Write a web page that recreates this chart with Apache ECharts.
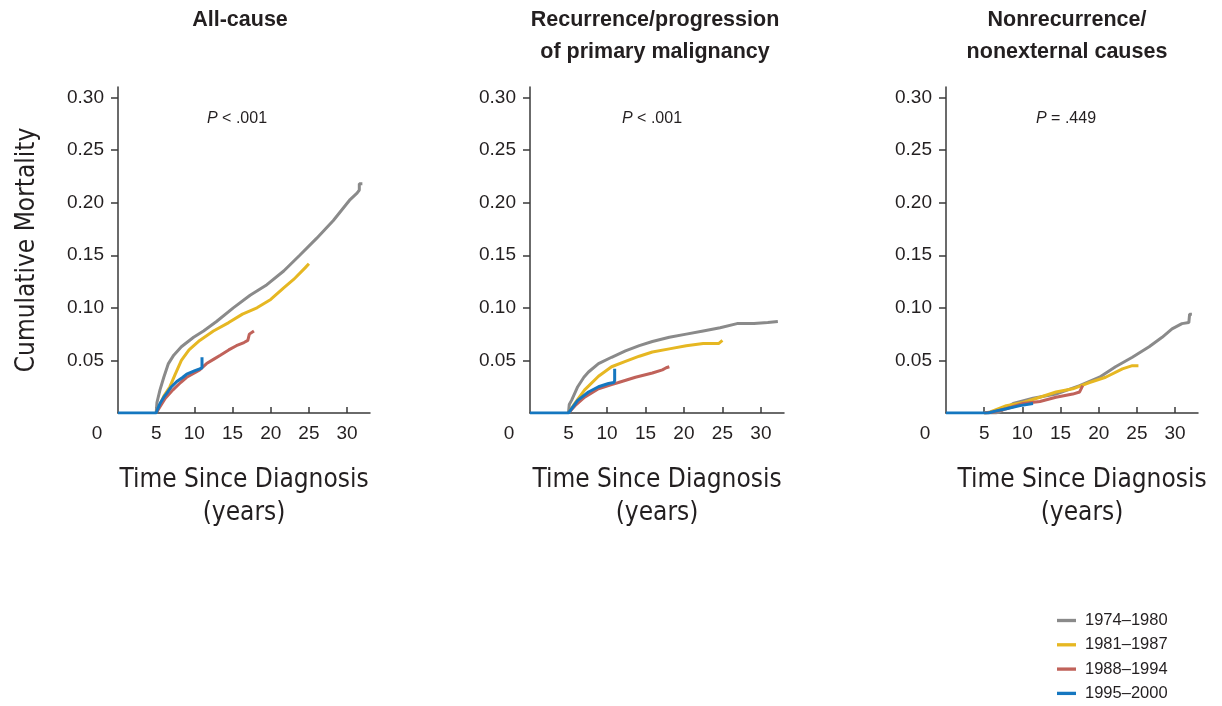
<!DOCTYPE html>
<html>
<head>
<meta charset="utf-8">
<script src="https://cdn.jsdelivr.net/npm/echarts@6/dist/echarts.min.js"></script>
<style>html,body{margin:0;padding:0;background:#fff;}#c{width:1222px;height:706px;}</style>
</head>
<body>
<div id="c"></div>
<script>
// ---- data (years since diagnosis, cumulative mortality) ----
var cohorts = ['1974\u20131980', '1981\u20131987', '1988\u20131994', '1995\u20132000'];
var panelTitles = ['All-cause', 'Recurrence/progression\nof primary malignancy', 'Nonrecurrence/\nnonexternal causes'];
var pValues = ['< .001', '< .001', '= .449'];
var yTicks = [0.05, 0.10, 0.15, 0.20, 0.25, 0.30];
var xLabels = [0, 5, 10, 15, 20, 25, 30];
var xTicks = [5, 10, 15, 20, 25, 30];

var allCause1974 = [[5,0],[5.1,0.01],[5.5,0.022],[6,0.034],[6.6,0.047],[7.3,0.055],[8.3,0.063],[9.9,0.072],[11.2,0.078],[12.9,0.087],[15.1,0.100],[17.3,0.112],[19.5,0.122],[21.7,0.135],[23.8,0.150],[26,0.166],[28.2,0.183],[30.4,0.203],[31.3,0.209],[31.6,0.212],[31.6,0.218],[32,0.218]];
var allCause1981 = [[5,0],[5.5,0.008],[6,0.016],[6.8,0.025],[7.5,0.037],[8.3,0.050],[9.3,0.060],[10.7,0.069],[12.5,0.078],[14.5,0.086],[16.3,0.094],[18.2,0.100],[20,0.108],[21.7,0.119],[23,0.127],[24.5,0.138],[25,0.142]];
var allCause1988 = [[5,0],[5.5,0.006],[6.2,0.014],[7.2,0.022],[8.2,0.029],[9,0.034],[10,0.038],[10.7,0.041],[11.6,0.047],[12.5,0.051],[13.4,0.055],[14.5,0.060],[15.5,0.064],[16.5,0.067],[17,0.069],[17.2,0.075],[17.8,0.078]];
var allCause1995 = [[0,0],[5,0],[5.2,0.004],[5.5,0.009],[6,0.015],[6.4,0.019],[7,0.025],[7.7,0.030],[8.5,0.034],[9,0.037],[10,0.040],[10.7,0.042],[11,0.043],[11,0.053]];

var recur1974 = [[5,0],[5.1,0.008],[5.4,0.012],[6.2,0.025],[7,0.034],[7.6,0.039],[8.9,0.047],[10.6,0.053],[12.4,0.059],[14.2,0.064],[15.9,0.068],[18.1,0.072],[20.3,0.075],[22.5,0.078],[24.7,0.081],[26.9,0.085],[29.1,0.085],[30.9,0.086],[32.2,0.087]];
var recur1981 = [[5,0],[5.8,0.009],[7.1,0.022],[8.9,0.035],[10.6,0.044],[12.4,0.049],[14.2,0.054],[15.9,0.058],[18.1,0.061],[20.3,0.064],[22.5,0.066],[24.5,0.066],[25,0.069]];
var recur1988 = [[5,0],[6,0.008],[7.1,0.015],[8.9,0.023],[10.6,0.027],[11.5,0.029],[13.7,0.034],[15.9,0.038],[17.2,0.041],[17.7,0.043],[18.1,0.044]];
var recur1995 = [[0,0],[5,0],[5.5,0.005],[6.2,0.012],[7.6,0.020],[8.9,0.025],[10.2,0.028],[10.9,0.029],[11,0.031],[11,0.042]];

var nonrec1974 = [[5,0],[6.5,0],[7,0.001],[8.8,0.009],[11.4,0.014],[14.4,0.018],[17.5,0.026],[20.1,0.034],[22.2,0.044],[24.4,0.053],[26.6,0.063],[28.3,0.072],[29.6,0.080],[30.9,0.085],[31.8,0.086],[31.9,0.094],[32.2,0.094]];
var nonrec1981 = [[5,0],[5.8,0.001],[7.9,0.007],[10.1,0.010],[12.3,0.015],[14.4,0.020],[16.6,0.023],[18.8,0.029],[20.9,0.034],[23.1,0.042],[24.4,0.045],[25.2,0.045]];
var nonrec1988 = [[5,0],[6.2,0.001],[7.9,0.004],[10.1,0.009],[12.3,0.011],[14.4,0.015],[16.6,0.018],[17.5,0.020],[17.9,0.026]];
var nonrec1995 = [[0,0],[5.5,0],[6.6,0.002],[7.9,0.004],[9.7,0.007],[11.4,0.009]];

var panelData = [
  [allCause1974, allCause1981, allCause1988, allCause1995],
  [recur1974, recur1981, recur1988, recur1995],
  [nonrec1974, nonrec1981, nonrec1988, nonrec1995]
];

// ---- styling / layout ----
var colors = ['#8a8a8a', '#e6b722', '#c0625a', '#1577c0'];
var ink = '#231f20';
var tickFont = "'Liberation Sans', Arial, sans-serif";
var narrowFont = "'Liberation Sans Narrow', 'DejaVu Sans Condensed', 'Liberation Sans', sans-serif";
var grids = [
  {left: 118, top: 87, width: 252, height: 326},
  {left: 530, top: 87, width: 254, height: 326},
  {left: 946, top: 87, width: 252, height: 326}
];
var titleCenters = [240, 655, 1067];
var pCenters = [237, 652, 1066];

var option = {
  backgroundColor: '#fff',
  animation: false,
  grid: grids,
  title: [],
  legend: {
    data: cohorts,
    orient: 'vertical',
    left: 1057, top: 612, padding: 0,
    icon: 'path://M0,0H20V3.5H0Z',
    itemWidth: 19, itemHeight: 14, itemGap: 7.3,
    textStyle: {fontFamily: tickFont, fontSize: 16.5, color: ink, padding: [0, 0, 0, 4]}
  },
  xAxis: [], yAxis: [], series: []
};

for (var p = 0; p < 3; p++) {
  option.title.push({
    text: panelTitles[p], left: titleCenters[p], top: 4, textAlign: 'center', padding: 0,
    textStyle: {fontFamily: tickFont, fontWeight: 'bold', fontSize: 21.5, color: ink, lineHeight: 32}
  });
  option.title.push({
    text: '{i|P} ' + pValues[p], left: pCenters[p], top: 111, textAlign: 'center', padding: 0,
    textStyle: {fontFamily: tickFont, fontSize: 16, fontWeight: 'normal', color: ink,
      rich: {i: {fontFamily: tickFont, fontSize: 16, fontStyle: 'italic', fontWeight: 'normal', color: ink}}}
  });
  option.xAxis.push({
    type: 'value', gridIndex: p, min: 0, max: 33, interval: 5,
    splitLine: {show: false},
    axisLine: {lineStyle: {color: '#3a3a3a', width: 1.5}},
    axisTick: {show: true, inside: true, length: 6, customValues: xTicks, lineStyle: {color: '#3a3a3a', width: 1.5}},
    axisLabel: {
      customValues: xLabels, margin: 11, color: ink, fontFamily: tickFont, fontSize: 19,
      formatter: function (v) { return v === 0 ? '{z|0}' : String(v); },
      rich: {z: {fontFamily: tickFont, fontSize: 19, color: ink, padding: [0, 42, 0, 0]}}
    },
    name: 'Time Since Diagnosis\n(years)', nameLocation: 'middle', nameGap: 51,
    nameTextStyle: {fontFamily: narrowFont, fontSize: 26, color: ink, lineHeight: 33,
      padding: p === 2 ? [0, 0, 0, 20] : 0}
  });
  option.yAxis.push({
    type: 'value', gridIndex: p, min: 0, max: 0.31, interval: 0.05,
    splitLine: {show: false},
    axisLine: {show: true, lineStyle: {color: '#3a3a3a', width: 1.5}},
    axisTick: {show: true, length: 7, customValues: yTicks, lineStyle: {color: '#3a3a3a', width: 1.5}},
    axisLabel: {
      customValues: yTicks, margin: 14, color: ink, fontFamily: tickFont, fontSize: 19,
      formatter: function (v) { return v.toFixed(2); }
    },
    name: p === 0 ? 'Cumulative Mortality' : '', nameLocation: 'middle', nameGap: 78,
    nameTextStyle: {fontFamily: narrowFont, fontSize: 26, color: ink}
  });
  for (var s = 0; s < 4; s++) {
    option.series.push({
      type: 'line', name: cohorts[s], xAxisIndex: p, yAxisIndex: p,
      data: panelData[p][s], symbol: 'none', z: 2 + s,
      lineStyle: {color: colors[s], width: 3}, itemStyle: {color: colors[s]}
    });
  }
}

var chart = echarts.init(document.getElementById('c'), null, {renderer: 'canvas'});
chart.setOption(option);
</script>
</body>
</html>
